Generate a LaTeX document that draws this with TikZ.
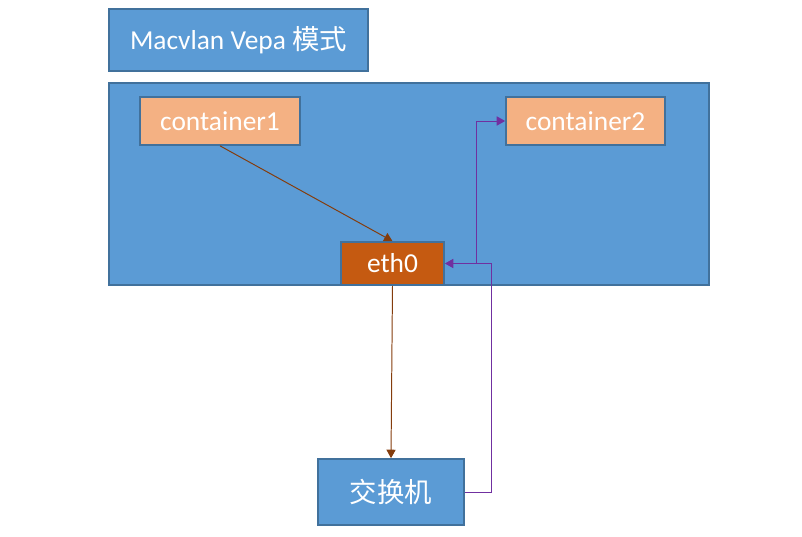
\documentclass[tikz,border=0pt]{standalone}
\usepackage{fontspec}
\setmainfont{Carlito}
\newfontfamily\cjk{Noto Sans CJK SC}
\usetikzlibrary{arrows.meta}
\definecolor{boxblue}{HTML}{5B9BD5}
\definecolor{edgeblue}{HTML}{41719C}
\definecolor{peach}{HTML}{F4B183}
\definecolor{rust}{HTML}{C55A11}
\definecolor{brownline}{HTML}{843C0C}
\definecolor{purpleline}{HTML}{7030A0}
\tikzset{
    block/.style={draw=edgeblue, line width=1.2pt, fill=boxblue, text=white,
      inner sep=0pt, font=\fontsize{19.5}{22}\selectfont},
    cont/.style={block, fill=peach},
    nic/.style={block, fill=rust},
    down/.style={draw=brownline, line width=0.7pt, -{Triangle[length=6pt, width=6.5pt]}},
    back/.style={draw=purpleline, line width=0.7pt, -{Triangle[length=6pt, width=6.5pt]}}
}
\begin{document}
\begin{tikzpicture}
        \useasboundingbox (0,0) rectangle (20.05,-13.425);
        \node [block, minimum width=6.475cm, minimum height=1.55cm] (title) at (5.9625,-1.0)
          {Macvlan Vepa {\cjk 模式}};
        \node [block, minimum width=15cm, minimum height=5.05cm] (host) at (10.225,-4.6) {};
        \node [cont, minimum width=4cm, minimum height=1.2cm] (c1) at (5.5,-3.025) {container1};
        \node [cont, minimum width=3.975cm, minimum height=1.2cm] (c2) at (14.6375,-3.025) {container2};
        \node [nic, minimum width=2.575cm, minimum height=1.075cm] (eth0) at (9.8125,-6.5875) {eth0};
        \node [block, minimum width=3.65cm, minimum height=1.65cm] (sw) at (9.775,-12.3) {\cjk 交换机};
        \coordinate (bend) at (12.275,-6.5875);
        \coordinate (split) at (11.9,-6.5875);
        \draw [down] (c1.south) -- (eth0.north);
        \draw [down] (eth0.south) -- (sw.north);
        \draw [back] (sw.east) -| (bend) -- (eth0.east);
        \draw [back] (split) |- (c2.west);
\end{tikzpicture}
\end{document}
